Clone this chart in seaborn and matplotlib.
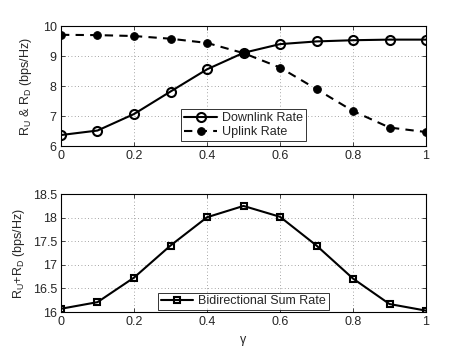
import numpy as np
import pandas as pd
import matplotlib.pyplot as plt
import seaborn as sns

# values
gamma = [0, 0.1, 0.2, 0.3, 0.4, 0.5, 0.6, 0.7, 0.8, 0.9, 1.0]
downlink = [6.37, 6.52, 7.07, 7.82, 8.56, 9.11, 9.40, 9.49, 9.53, 9.55, 9.55]
uplink = [9.71, 9.70, 9.67, 9.58, 9.44, 9.10, 8.62, 7.90, 7.17, 6.62, 6.47]
sum_rate = [16.07, 16.21, 16.73, 17.41, 18.01, 18.25, 18.02, 17.41, 16.71, 16.17, 16.03]

sns.set_style('white')
plt.rcParams['font.family'] = ['Liberation Sans', 'DejaVu Sans']
plt.rcParams['font.size'] = 9
plt.rcParams['mathtext.fontset'] = 'custom'
plt.rcParams['mathtext.rm'] = 'Liberation Sans'
plt.rcParams['mathtext.it'] = 'Liberation Sans'

df = pd.DataFrame({'gamma': gamma, 'down': downlink, 'up': uplink, 'sum': sum_rate})

fig = plt.figure(figsize=(4.71, 3.53), dpi=100)
ax1 = fig.add_axes([0.1295, 0.586, 0.775, 0.340])
ax2 = fig.add_axes([0.1295, 0.116, 0.775, 0.334])

sns.lineplot(data=df, x='gamma', y='down', ax=ax1, color='black', lw=1.5,
             marker='o', markersize=6.5, markerfacecolor='none',
             markeredgecolor='black', markeredgewidth=1.5, label='Downlink Rate')
sns.lineplot(data=df, x='gamma', y='up', ax=ax1, color='black', lw=1.5,
             linestyle=(0, (4, 3)), marker='o', markersize=5.5,
             markerfacecolor='black', markeredgecolor='black', label='Uplink Rate')
sns.lineplot(data=df, x='gamma', y='sum', ax=ax2, color='black', lw=1.5,
             marker='s', markersize=5, markerfacecolor='none',
             markeredgecolor='black', markeredgewidth=1.5, label='Bidirectional Sum Rate')

for ax in (ax1, ax2):
    ax.set_xlim(0, 1)
    ax.set_xticks([0, 0.2, 0.4, 0.6, 0.8, 1])
    ax.set_xticklabels(['0', '0.2', '0.4', '0.6', '0.8', '1'])
    ax.grid(True, linestyle=(0, (1, 3)), color='#888888', linewidth=0.6)
    ax.tick_params(direction='in', length=3, width=0.6, labelsize=9, pad=3,
                   top=True, right=True, bottom=True, left=True)
    for s in ax.spines.values():
        s.set_linewidth(0.8)
        s.set_color('black')
    ax.set_xlabel('')

ax1.set_ylim(6, 10)
ax1.set_yticks([6, 7, 8, 9, 10])
ax1.set_ylabel('R$_U$ & R$_D$ (bps/Hz)', fontsize=9, labelpad=6)
leg1 = ax1.legend(loc='lower center', bbox_to_anchor=(0.5, 0.02), frameon=True,
                  fancybox=False, edgecolor='black', fontsize=9,
                  handlelength=2.6, borderpad=0.25, labelspacing=0.15,
                  handletextpad=0.4, borderaxespad=0.2)
leg1.get_frame().set_linewidth(0.7)

ax2.set_ylim(16, 18.5)
ax2.set_yticks([16, 16.5, 17, 17.5, 18, 18.5])
ax2.set_yticklabels(['16', '16.5', '17', '17.5', '18', '18.5'])
ax2.set_ylabel('R$_U$+R$_D$ (bps/Hz)', fontsize=9, labelpad=4)
ax2.set_xlabel('γ', fontsize=9, labelpad=4)
leg2 = ax2.legend(loc='lower center', bbox_to_anchor=(0.5, 0.0), frameon=True,
                  fancybox=False, edgecolor='black', fontsize=9,
                  handlelength=2.6, borderpad=0.2, handletextpad=0.4,
                  borderaxespad=0.2)
leg2.get_frame().set_linewidth(0.7)

fig.savefig('out.png', dpi=100)
